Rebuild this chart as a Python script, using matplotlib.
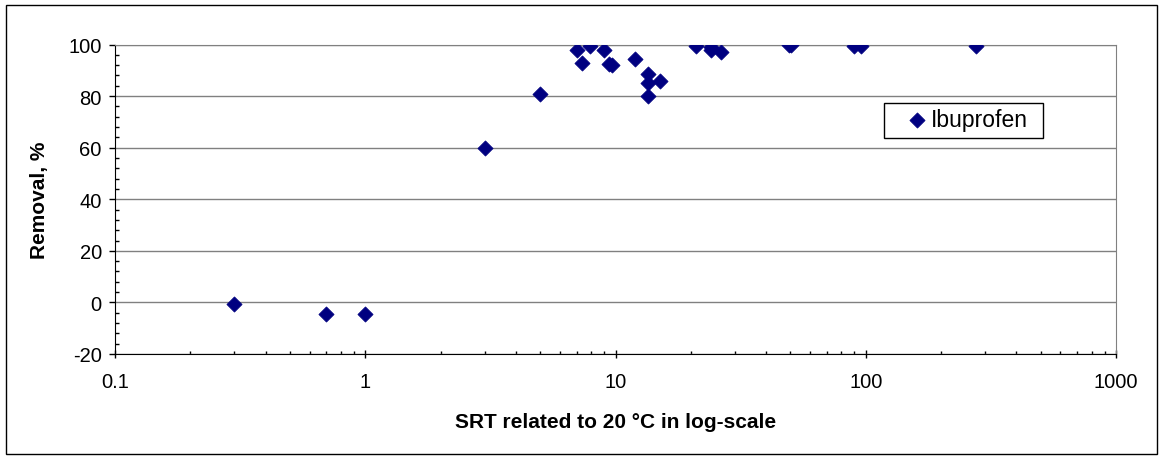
import numpy as np
import matplotlib.pyplot as plt
from matplotlib.patches import Rectangle
from matplotlib.ticker import FixedLocator, LogLocator, NullFormatter, FuncFormatter

plt.rcParams['font.family'] = ['Liberation Sans', 'DejaVu Sans']
plt.rcParams['axes.unicode_minus'] = False

# SRT related to 20 C (days) and removal (%)
srt = [0.3, 0.7, 1.0, 3.0, 5.0, 7.0, 7.35, 7.9, 9.0, 9.4, 9.7, 12.0,
       13.5, 13.5, 13.5, 15.0, 21.0, 24.0, 24.0, 26.5, 49.5, 50.5,
       90.0, 96.0, 276.0]
removal = [-0.8, -4.5, -4.5, 60.0, 80.8, 97.9, 93.0, 99.4, 97.9, 92.6, 92.0, 94.2,
           88.4, 85.0, 80.1, 85.8, 99.4, 99.1, 97.7, 97.2, 99.8, 99.8,
           99.3, 99.3, 99.3]
series_name = "Ibuprofen"

W, H = 1163, 460
fig = plt.figure(figsize=(W / 100, H / 100), dpi=100)
ax = fig.add_axes([115 / W, 105 / H, 1001 / W, 309.5 / H])

# outer chart border
fig.patches.append(Rectangle((6 / W, 5 / H), 1151 / W, 449 / H,
                             transform=fig.transFigure, fill=False,
                             edgecolor='black', linewidth=1))

ax.scatter(srt, removal, marker='D', s=60, color='#000080',
           edgecolors='#000080', linewidths=0.5, zorder=3, label=series_name)

ax.set_xscale('log')
ax.set_xlim(0.1, 1000)
ax.set_ylim(-20, 100)

ax.xaxis.set_major_locator(FixedLocator([0.1, 1, 10, 100, 1000]))
ax.xaxis.set_major_formatter(FuncFormatter(lambda v, p: f"{v:g}"))
ax.xaxis.set_minor_locator(LogLocator(base=10, subs=np.arange(2, 10)))
ax.xaxis.set_minor_formatter(NullFormatter())
ax.set_yticks(np.arange(-20, 101, 20))
ax.set_yticks(np.arange(-20, 101, 4), minor=True)

ax.tick_params(axis='x', which='major', direction='inout', length=6, width=1,
               labelsize=14.5, pad=10)
ax.tick_params(axis='x', which='minor', direction='in', length=2.5, width=1)
ax.tick_params(axis='y', which='major', direction='out', length=4.5, width=1,
               labelsize=14.5, pad=5)
ax.tick_params(axis='y', which='minor', direction='in', length=3, width=1)

ax.grid(axis='y', which='major', color='#808080', linewidth=1)
ax.set_axisbelow(True)

for side in ['top', 'right']:
    ax.spines[side].set_color('#808080')
for side in ['left', 'bottom']:
    ax.spines[side].set_color('black')

ax.set_xlabel("SRT related to 20 °C in log-scale", fontsize=15,
              fontweight='bold', labelpad=15)
ax.set_ylabel("Removal, %", fontsize=15, fontweight='bold', labelpad=14)

# legend: frame drawn separately so the marker/text spacing can follow the original
ax.add_patch(Rectangle((884 / W, (H - 139) / H), 159 / W, 35 / H,
                       transform=fig.transFigure, fill=True, clip_on=False,
                       facecolor='white', edgecolor='black', linewidth=1,
                       zorder=4))
leg = ax.legend(loc='center left', bbox_to_anchor=(906 / W, (H - 121) / H),
                bbox_transform=fig.transFigure, frameon=False, fontsize=16.5,
                handletextpad=0.1, borderpad=0, handlelength=1.0,
                borderaxespad=0)
leg.set_zorder(5)

fig.savefig("out.png", dpi=100)
